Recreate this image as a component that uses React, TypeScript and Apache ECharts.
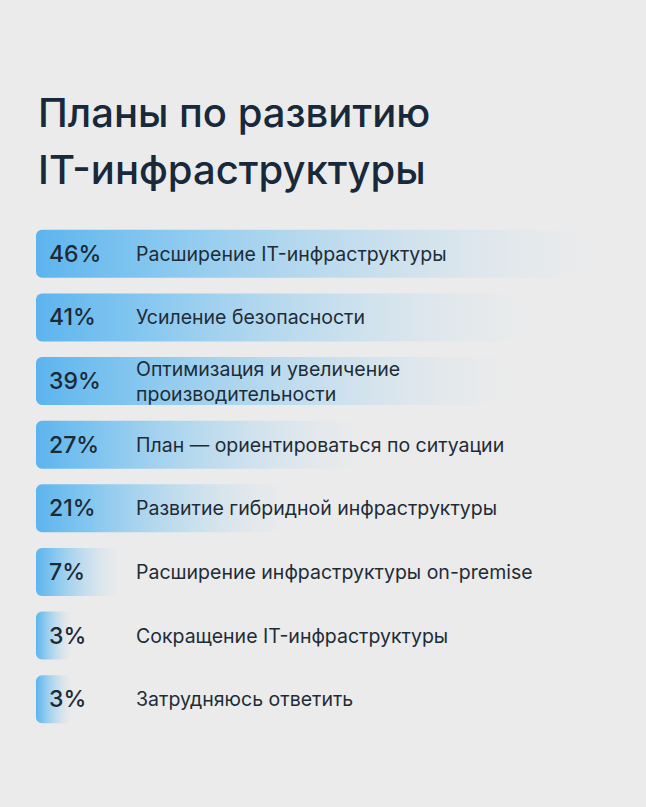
import React, { useEffect, useRef } from "react";
import * as echarts from "echarts";

const titleText = "Планы по развитию\nIT-инфраструктуры";
const categories = [
  "Расширение IT-инфраструктуры",
  "Усиление безопасности",
  "Оптимизация и увеличение\nпроизводительности",
  "План — ориентироваться по ситуации",
  "Развитие гибридной инфраструктуры",
  "Расширение инфраструктуры on-premise",
  "Сокращение IT-инфраструктуры",
  "Затрудняюсь ответить",
];
const values = [46, 41, 39, 27, 21, 7, 3, 3];

export default function App() {
  const ref = useRef<HTMLDivElement>(null);
  useEffect(() => {
    if (!ref.current) return;
    const chart = echarts.init(ref.current, null, { renderer: "svg" });
    const grad = new echarts.graphic.LinearGradient(0, 0, 1, 0, [
      { offset: 0, color: "rgba(92,180,238,1)" },
      { offset: 0.2, color: "rgba(112,191,240,0.85)" },
      { offset: 0.6, color: "rgba(155,208,240,0.45)" },
      { offset: 1, color: "rgba(200,225,240,0)" },
    ]);
    chart.setOption({
      animation: false,
      backgroundColor: "#ebebeb",
      title: {
        text: titleText,
        left: 33,
        top: 79,
        textStyle: {
          fontFamily: "Inter",
          fontSize: 40,
          fontWeight: 500,
          lineHeight: 57,
          color: "#17293a",
        },
      },
      grid: { left: 36, right: 0, top: 222, bottom: 76, containLabel: false },
      xAxis: {
        type: "value",
        min: 0,
        max: 50,
        show: false,
      },
      yAxis: {
        type: "category",
        data: categories,
        inverse: true,
        axisLine: { show: false },
        axisTick: { show: false },
        splitLine: { show: false },
        axisLabel: {
          inside: true,
          margin: 100,
          fontFamily: "Inter",
          fontSize: 19.5,
          lineHeight: 25,
          color: "#1e2c37",
        },
        z: 10,
      },
      series: [
        {
          type: "bar",
          data: values,
          barWidth: 48,
          itemStyle: { color: grad, borderRadius: 6 },
          label: {
            show: true,
            position: "insideLeft",
            distance: 13,
            formatter: "{c}%",
            fontFamily: "Inter",
            fontSize: 23,
            fontWeight: 500,
            color: "#1b2a35",
          },
        },
      ],
    });
    return () => chart.dispose();
  }, []);
  return (
    <div
      ref={ref}
      style={{ position: "absolute", left: 0, top: 0, width: 646, height: 807 }}
    />
  );
}
